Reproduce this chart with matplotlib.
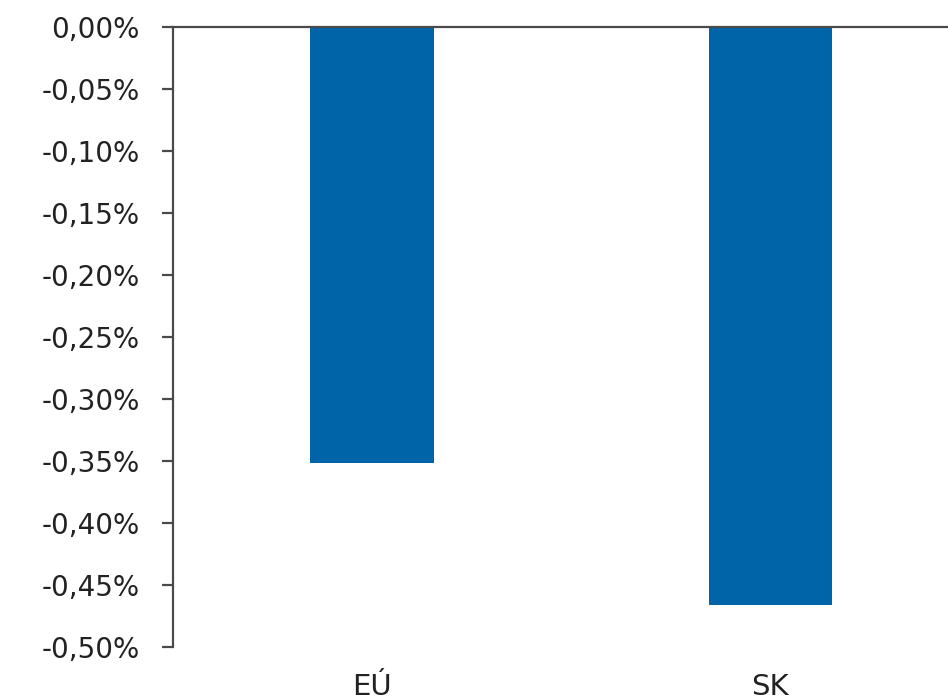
import matplotlib
matplotlib.use('Agg')
import matplotlib.pyplot as plt
from matplotlib.ticker import FuncFormatter, MultipleLocator

# pokles v percentach
regiony = ['EÚ', 'SK']
hodnoty = [-0.352, -0.466]

modra = '#0064A8'
seda = '#4a4a4a'

fig = plt.figure(figsize=(9.48, 7.0), dpi=100)
ax = fig.add_axes([0.1825, 0.0757, 0.8402, 0.8857])

x = range(len(regiony))
ax.bar(x, hodnoty, width=0.31, color=modra, zorder=2)

ax.set_xlim(-0.5, 1.5)
ax.set_ylim(-0.5, 0.0)
ax.yaxis.set_major_locator(MultipleLocator(0.05))
ax.yaxis.set_major_formatter(FuncFormatter(lambda v, p: '{:.2f}%'.format(v).replace('.', ',').replace('-0,00', '0,00')))

ax.set_xticks(list(x))
ax.set_xticklabels(regiony)

for s in ['bottom', 'right']:
    ax.spines[s].set_visible(False)
for s in ['top', 'left']:
    ax.spines[s].set_color(seda)
    ax.spines[s].set_linewidth(1.6)
ax.spines['top'].set_zorder(3)

ax.tick_params(axis='y', length=8, width=1.6, color=seda, pad=16,
               labelsize=20, labelcolor='#222222')
ax.tick_params(axis='x', length=0, pad=19, labelsize=21, labelcolor='#222222')

fig.savefig('out.png', dpi=100)
